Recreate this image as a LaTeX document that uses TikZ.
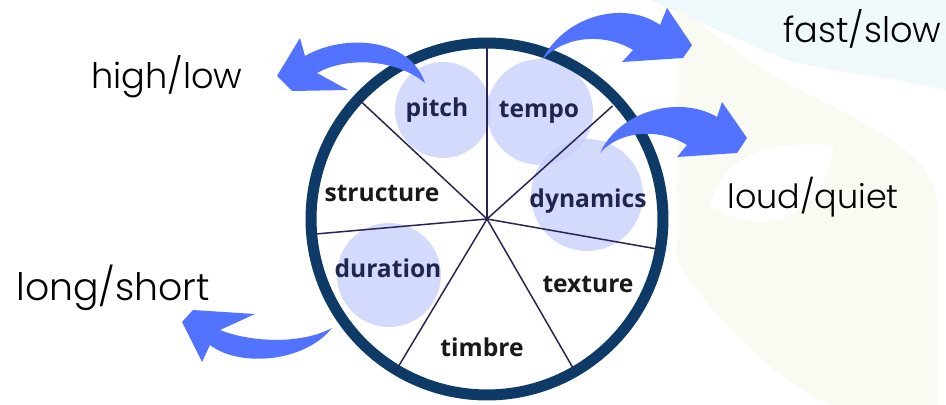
\documentclass[tikz,border=0pt]{standalone}
\usepackage{fontspec}
\newfontfamily\pairfont{Poppins}[UprightFont=* Light]
\newfontfamily\wheelfont{Open Sans}

\definecolor{ringblue}{HTML}{0D3A66}
\definecolor{spokeink}{HTML}{2B2452}
\definecolor{arrowblue}{HTML}{5273FF}
\definecolor{bubble}{HTML}{C9D1FB}
\definecolor{bubbleink}{HTML}{1E2550}
\definecolor{blobblue}{HTML}{EFF8FA}
\definecolor{blobgreen}{HTML}{F9FAF2}

\tikzset{
  spoke/.style={draw=spokeink, line width=0.85pt},
  bubblefill/.style={circle, fill=bubble, fill opacity=0.8, inner sep=0pt},
  part/.style={font=\wheelfont\bfseries\fontsize{14}{16}\selectfont, text=black!90},
  pair/.style={font=\pairfont\fontsize{20}{24}\selectfont, anchor=base west, inner sep=0pt},
  bigarrow/.style={fill=arrowblue}
}

\begin{document}
\begin{tikzpicture}[x=0.02cm, y=-0.02cm]
  \fill[white] (0,0) rectangle (946,405);
  \useasboundingbox (0,0) rectangle (946,405);
  % faint background blobs
  \fill[blobblue] (650,0) -- (946,0) -- (946,90) .. controls (880,75) and (820,70) .. (787,60)
    .. controls (740,40) .. (650,0) -- cycle;
  \fill[blobgreen] (677,8) -- (677,260) .. controls (720,330) and (790,390) .. (833,405) -- (937,405)
    -- (937,200) .. controls (930,160) and (900,140) .. (800,90) .. controls (740,60) and (700,20) .. (677,8) -- cycle;
  \fill[white] (710,207) .. controls (720,160) and (760,140) .. (833,145)
    .. controls (830,190) and (800,222) .. (760,222) .. controls (740,220) .. (710,207) -- cycle;

  % the wheel
  \coordinate (O) at (487,219);
  \node[bubblefill, minimum size=1.92cm] (pitchbub) at (443,110) {};
  \node[bubblefill, minimum size=2.12cm] (tempobub) at (540,112) {};
  \node[bubblefill, minimum size=2.24cm] (dynbub)   at (587,195) {};
  \node[bubblefill, minimum size=2.08cm] (durbub)   at (389,275) {};
  \draw[ringblue, line width=0.22cm] (O) circle (3.52cm);
  \foreach \a/\r [count=\i] in {-90/173, -42/169, 10/174, 60/171, 121/180, 175/172, -137/176}
    \draw[spoke] (O) -- ++(\a:\r) coordinate (s\i);

  \node[part, text=bubbleink] (pitch)    at (437,110) {pitch};
  \node[part, text=bubbleink] (tempo)    at (539,112) {tempo};
  \node[part] (structure) at (382,193) {structure};
  \node[part, text=bubbleink] (dynamics) at (588,201) {dynamics};
  \node[part, text=bubbleink] (duration) at (388,268) {duration};
  \node[part] (texture)   at (588,284) {texture};
  \node[part] (timbre)    at (482,347) {timbre};

  % curved arrows
  \fill[bigarrow] (425,83) .. controls (410,38) and (345,33) .. (305,56)
    -- (300,38) -- (277,76) -- (292,91) -- (348,90) -- (317,73)
    .. controls (345,57) and (395,58) .. (425,83) -- cycle;
  \fill[bigarrow] (542,60) .. controls (565,15) and (625,0) .. (660,25)
    -- (667,8) -- (692,45) -- (683,58) -- (622,62) -- (633,50)
    .. controls (605,33) and (565,35) .. (542,60) -- cycle;
  \fill[bigarrow] (600,153) .. controls (620,110) and (680,95) .. (717,117)
    -- (722,102) -- (747,138) -- (737,153) -- (677,157) -- (687,145)
    .. controls (660,128) and (620,130) .. (600,153) -- cycle;
  \fill[bigarrow] (332,328) .. controls (305,362) and (240,368) .. (210,345)
    -- (202,362) -- (182,322) -- (193,310) -- (255,314) -- (220,330)
    .. controls (250,342) and (300,345) .. (332,328) -- cycle;

  \node[pair] (highlow)   at (91,89)   {high/low};
  \node[pair, font=\pairfont\fontsize{21.5}{24}\selectfont] (longshort) at (16,300) {long/short};
  \node[pair] (fastslow)  at (783,43)  {fast/slow};
  \node[pair, font=\pairfont\fontsize{19}{24}\selectfont] (loudquiet) at (727,209) {loud/quiet};
\end{tikzpicture}
\end{document}
